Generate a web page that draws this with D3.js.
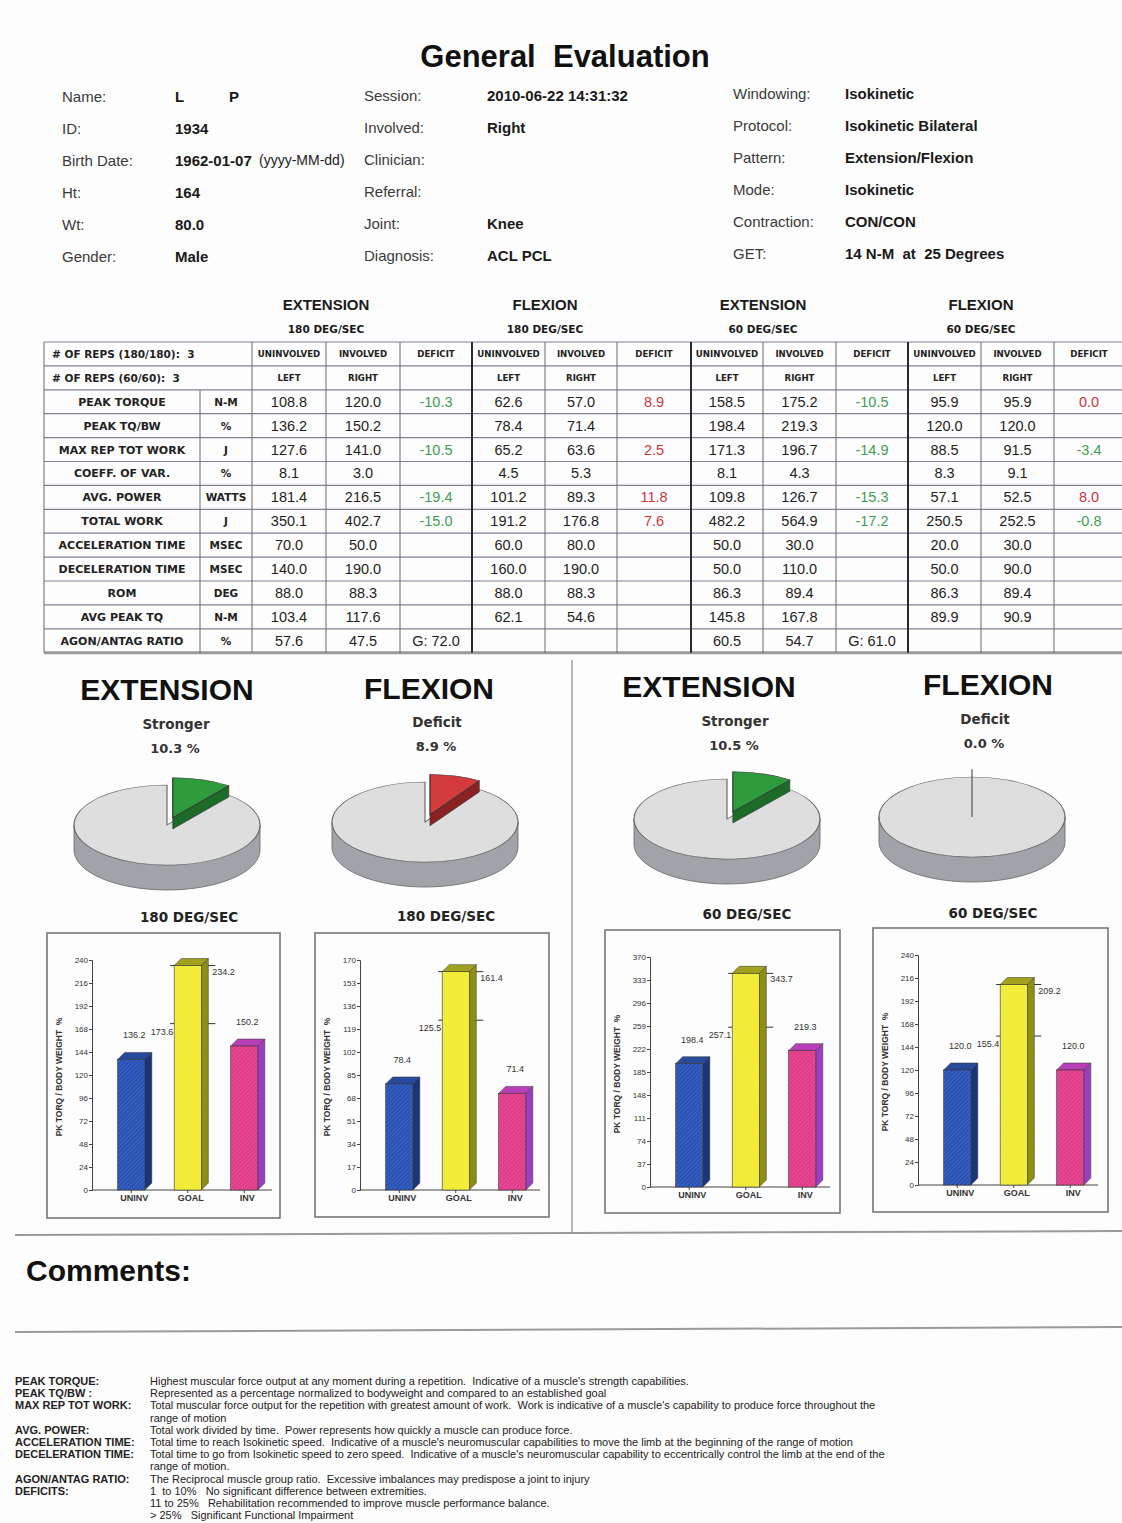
<!DOCTYPE html>
<html>
<head>
<meta charset="utf-8">
<style>
  body { margin: 0; background: #fff; }
  svg text { font-family: "Liberation Sans", Arial, sans-serif; white-space: pre; }
  .wide { font-family: "DejaVu Sans", Verdana, sans-serif !important; font-weight: bold; }
  .narrow { font-family: "Liberation Sans Narrow", "DejaVu Sans Condensed", sans-serif !important; }
</style>
</head>
<body>
<svg id="page"></svg>
<script src="https://cdn.jsdelivr.net/npm/d3@7"></script>
<script>
// ---- header info ----
var infoLabelsA = ["Name:", "ID:", "Birth Date:", "Ht:", "Wt:", "Gender:"];
var infoValuesA = ["L", "1934", "1962-01-07", "164", "80.0", "Male"];
var infoLabelsB = ["Session:", "Involved:", "Clinician:", "Referral:", "Joint:", "Diagnosis:"];
var infoValuesB = ["2010-06-22 14:31:32", "Right", "", "", "Knee", "ACL PCL"];
var infoLabelsC = ["Windowing:", "Protocol:", "Pattern:", "Mode:", "Contraction:", "GET:"];
var infoValuesC = ["Isokinetic", "Isokinetic Bilateral", "Extension/Flexion", "Isokinetic", "CON/CON", "14 N-M  at  25 Degrees"];

// ---- table ----
var groupTitles = ["EXTENSION", "FLEXION", "EXTENSION", "FLEXION"];
var groupSpeeds = ["180 DEG/SEC", "180 DEG/SEC", "60 DEG/SEC", "60 DEG/SEC"];
var rowLabels = ["PEAK TORQUE", "PEAK TQ/BW", "MAX REP TOT WORK", "COEFF. OF VAR.", "AVG. POWER", "TOTAL WORK",
                 "ACCELERATION TIME", "DECELERATION TIME", "ROM", "AVG PEAK TQ", "AGON/ANTAG RATIO"];
var rowUnits = ["N-M", "%", "J", "%", "WATTS", "J", "MSEC", "MSEC", "DEG", "N-M", "%"];

var ext180Left    = [108.8, 136.2, 127.6, 8.1, 181.4, 350.1, 70.0, 140.0, 88.0, 103.4, 57.6];
var ext180Right   = [120.0, 150.2, 141.0, 3.0, 216.5, 402.7, 50.0, 190.0, 88.3, 117.6, 47.5];
var ext180Deficit = [-10.3, null, -10.5, null, -19.4, -15.0, null, null, null, null, "G: 72.0"];
var flx180Left    = [62.6, 78.4, 65.2, 4.5, 101.2, 191.2, 60.0, 160.0, 88.0, 62.1, null];
var flx180Right   = [57.0, 71.4, 63.6, 5.3, 89.3, 176.8, 80.0, 190.0, 88.3, 54.6, null];
var flx180Deficit = [8.9, null, 2.5, null, 11.8, 7.6, null, null, null, null, null];
var ext60Left     = [158.5, 198.4, 171.3, 8.1, 109.8, 482.2, 50.0, 50.0, 86.3, 145.8, 60.5];
var ext60Right    = [175.2, 219.3, 196.7, 4.3, 126.7, 564.9, 30.0, 110.0, 89.4, 167.8, 54.7];
var ext60Deficit  = [-10.5, null, -14.9, null, -15.3, -17.2, null, null, null, null, "G: 61.0"];
var flx60Left     = [95.9, 120.0, 88.5, 8.3, 57.1, 250.5, 20.0, 50.0, 86.3, 89.9, null];
var flx60Right    = [95.9, 120.0, 91.5, 9.1, 52.5, 252.5, 30.0, 90.0, 89.4, 90.9, null];
var flx60Deficit  = [0.0, null, -3.4, null, 8.0, -0.8, null, null, null, null, null];

// ---- pies ----
var pieTitles = ["EXTENSION", "FLEXION", "EXTENSION", "FLEXION"];
var pieLabels = ["Stronger", "Deficit", "Stronger", "Deficit"];
var piePcts = [10.3, 8.9, 10.5, 0.0];
var pieSpeeds = ["180 DEG/SEC", "180 DEG/SEC", "60 DEG/SEC", "60 DEG/SEC"];

// ---- bar charts ----
var barCategories = ["UNINV", "GOAL", "INV"];
var uninvValues = [136.2, 78.4, 198.4, 120.0];
var invValues = [150.2, 71.4, 219.3, 120.0];
var goalLow = [173.6, 125.5, 257.1, 155.4];
var goalHigh = [234.2, 161.4, 343.7, 209.2];
var yTicks = [
  [0, 24, 48, 72, 96, 120, 144, 168, 192, 216, 240],
  [0, 17, 34, 51, 68, 85, 102, 119, 136, 153, 170],
  [0, 37, 74, 111, 148, 185, 222, 259, 296, 333, 370],
  [0, 24, 48, 72, 96, 120, 144, 168, 192, 216, 240]
];

// ---- glossary ----
var glossTerms = ["PEAK TORQUE:", "PEAK TQ/BW :", "MAX REP TOT WORK:", "", "AVG. POWER:", "ACCELERATION TIME:",
                  "DECELERATION TIME:", "", "AGON/ANTAG RATIO:", "DEFICITS:", "", ""];
var glossText = [
  "Highest muscular force output at any moment during a repetition.  Indicative of a muscle's strength capabilities.",
  "Represented as a percentage normalized to bodyweight and compared to an established goal",
  "Total muscular force output for the repetition with greatest amount of work.  Work is indicative of a muscle's capability to produce force throughout the",
  "range of motion",
  "Total work divided by time.  Power represents how quickly a muscle can produce force.",
  "Total time to reach Isokinetic speed.  Indicative of a muscle's neuromuscular capabilities to move the limb at the beginning of the range of motion",
  "Total time to go from Isokinetic speed to zero speed.  Indicative of a muscle's neuromuscular capability to eccentrically control the limb at the end of the",
  "range of motion.",
  "The Reciprocal muscle group ratio.  Excessive imbalances may predispose a joint to injury",
  "1  to 10%   No significant difference between extremities.",
  "11 to 25%   Rehabilitation recommended to improve muscle performance balance.",
  "> 25%   Significant Functional Impairment"
];

var W = 1122, H = 1523;
var svg = d3.select("#page").attr("width", W).attr("height", H);
svg.append("rect").attr("width", W).attr("height", H).attr("fill", "#fdfdfd");

var defs = svg.append("defs");
var pat = defs.append("pattern").attr("id", "hatch").attr("width", 3).attr("height", 3)
  .attr("patternUnits", "userSpaceOnUse").attr("patternTransform", "rotate(45)");
pat.append("line").attr("x1", 0).attr("y1", 0).attr("x2", 0).attr("y2", 3)
  .attr("stroke", "rgba(255,255,255,0.22)").attr("stroke-width", 1);

// title
svg.append("text").attr("x", 565).attr("y", 67).attr("text-anchor", "middle")
  .attr("font-size", 31).attr("font-weight", "bold").attr("fill", "#111").text("General  Evaluation");

// info block
function infoCol(labels, values, lx, vx, y0) {
  labels.forEach(function (l, i) {
    var y = y0 + i * 31.9 + 5;
    svg.append("text").attr("x", lx).attr("y", y).attr("font-size", 15).attr("fill", "#3a3a3a").text(l);
    svg.append("text").attr("x", vx).attr("y", y).attr("font-size", 15).attr("font-weight", "bold")
      .attr("fill", "#1a1a1a").text(values[i]);
  });
}
infoCol(infoLabelsA, infoValuesA, 62, 175, 97);
infoCol(infoLabelsB, infoValuesB, 364, 487, 96);
infoCol(infoLabelsC, infoValuesC, 733, 845, 94);
svg.append("text").attr("x", 229).attr("y", 102).attr("font-size", 15).attr("font-weight", "bold").attr("fill", "#1a1a1a").text("P");
svg.append("text").attr("x", 259).attr("y", 165).attr("font-size", 14).attr("fill", "#222").text("(yyyy-MM-dd)");

// ---- table ----
var colX = [44, 200, 252, 326, 400, 472, 545, 617, 691, 763, 836, 908, 981, 1054, 1124];
var tableTop = 342, rowH = 23.9, nRows = 13;
var groups = [
  [ext180Left, ext180Right, ext180Deficit],
  [flx180Left, flx180Right, flx180Deficit],
  [ext60Left, ext60Right, ext60Deficit],
  [flx60Left, flx60Right, flx60Deficit]
];
var tbl = svg.append("g");

groupTitles.forEach(function (t, gi) {
  var cx = colX[3 + gi * 3];
  tbl.append("text").attr("x", cx).attr("y", 310).attr("text-anchor", "middle")
    .attr("font-size", 15).attr("font-weight", "bold").attr("fill", "#1a1a1a").text(t);
  tbl.append("text").attr("class", "wide").attr("x", cx).attr("y", 333).attr("text-anchor", "middle")
    .attr("font-size", 10.5).attr("fill", "#1a1a1a").text(groupSpeeds[gi]);
});

d3.range(nRows + 1).forEach(function (i) {
  tbl.append("line").attr("x1", colX[0]).attr("x2", colX[colX.length - 1])
    .attr("y1", tableTop + i * rowH).attr("y2", tableTop + i * rowH)
    .attr("stroke", i === nRows ? "#9a9a9a" : "#857f98").attr("stroke-width", i === nRows ? 3 : 1.2);
});
colX.forEach(function (x, j) {
  var thick = (j === 5 || j === 8 || j === 11);
  tbl.append("line").attr("x1", x).attr("x2", x)
    .attr("y1", j === 1 ? tableTop + 2 * rowH : tableTop).attr("y2", tableTop + nRows * rowH)
    .attr("stroke", thick ? "#2a2a2a" : "#6a6a6a").attr("stroke-width", thick ? 2 : 1);
});

function rowY(i) { return tableTop + (i + 0.5) * rowH; }
tbl.append("text").attr("class", "wide").attr("x", 52).attr("y", rowY(0) + 4).attr("font-size", 10.5)
  .attr("fill", "#222").text("# OF REPS (180/180):  3");
tbl.append("text").attr("class", "wide").attr("x", 52).attr("y", rowY(1) + 4).attr("font-size", 10.5)
  .attr("fill", "#222").text("# OF REPS (60/60):  3");

groups.forEach(function (g, gi) {
  var base = 2 + gi * 3;
  [["UNINVOLVED", "LEFT"], ["INVOLVED", "RIGHT"], ["DEFICIT", ""]].forEach(function (h, k) {
    var cx = (colX[base + k] + colX[base + k + 1]) / 2;
    tbl.append("text").attr("class", "wide").attr("x", cx).attr("y", rowY(0) + 3.5).attr("text-anchor", "middle")
      .attr("font-size", 8.6).attr("fill", "#222").text(h[0]);
    tbl.append("text").attr("class", "wide").attr("x", cx).attr("y", rowY(1) + 3.5).attr("text-anchor", "middle")
      .attr("font-size", 8.6).attr("fill", "#222").text(h[1]);
  });
  g.forEach(function (arr, k) {
    var cx = (colX[base + k] + colX[base + k + 1]) / 2;
    arr.forEach(function (v, r) {
      if (v === null) return;
      var txt = typeof v === "string" ? v : (v < 0 ? "-" : "") + Math.abs(v).toFixed(1);
      var col = "#1e1e1e";
      if (k === 2 && typeof v === "number") col = v < 0 ? "#3f9e54" : "#c9373d";
      tbl.append("text").attr("x", cx).attr("y", rowY(r + 2) + 5).attr("text-anchor", "middle")
        .attr("font-size", 14.5).attr("fill", col).text(txt);
    });
  });
});
rowLabels.forEach(function (l, r) {
  tbl.append("text").attr("class", "wide").attr("x", (colX[0] + colX[1]) / 2).attr("y", rowY(r + 2) + 4)
    .attr("text-anchor", "middle").attr("font-size", 11).attr("fill", "#222").text(l);
  tbl.append("text").attr("class", "wide").attr("x", (colX[1] + colX[2]) / 2).attr("y", rowY(r + 2) + 4)
    .attr("text-anchor", "middle").attr("font-size", 10.5).attr("fill", "#222").text(rowUnits[r]);
});

// ---- pies ----
var pieLayout = [
  {cx: 167, cy: 825, tx: 167, ty: 690, lx: 176, ly: 729, sx: 189, sy: 922},
  {cx: 425, cy: 822, tx: 429, ty: 689, lx: 437, ly: 727, sx: 446, sy: 921},
  {cx: 727, cy: 819, tx: 709, ty: 687, lx: 735, ly: 726, sx: 747, sy: 919},
  {cx: 972, cy: 817, tx: 988, ty: 685, lx: 985, ly: 724, sx: 993, sy: 918}
];
var pieColors = [["#2e9b3d", "#1d6b28"], ["#d33a3c", "#8a2224"], ["#2e9b3d", "#1d6b28"], ["#d33a3c", "#8a2224"]];
var rx = 93, ry = 40, depth = 25, explode = 18;
var pieGen = d3.pie().sort(null);
var arcGen = d3.arc().innerRadius(0).outerRadius(rx);

function rim(cx, cy, a) { return [cx + rx * Math.sin(a), cy - ry * Math.cos(a)]; }

pieLayout.forEach(function (p, i) {
  var g = svg.append("g");
  g.append("text").attr("x", p.tx).attr("y", p.ty + 10).attr("text-anchor", "middle")
    .attr("font-size", 30).attr("font-weight", "bold").attr("fill", "#111").text(pieTitles[i]);
  g.append("text").attr("class", "wide").attr("x", p.lx).attr("y", p.ly).attr("text-anchor", "middle")
    .attr("font-size", 13.5).attr("fill", "#333").text(pieLabels[i]);
  g.append("text").attr("class", "wide").attr("x", p.lx - 1).attr("y", p.ly + 24).attr("text-anchor", "middle")
    .attr("font-size", 13).attr("fill", "#333").text(piePcts[i].toFixed(1) + " %");
  g.append("text").attr("class", "wide").attr("x", p.sx).attr("y", p.sy).attr("text-anchor", "middle")
    .attr("font-size", 13.5).attr("fill", "#222").text(pieSpeeds[i]);

  var arcs = pieGen([piePcts[i], 100 - piePcts[i]]);
  var k = ry / rx;
  // side of the disc (front half)
  g.append("path")
    .attr("d", "M" + (p.cx + rx) + "," + p.cy + " A" + rx + "," + ry + " 0 0 1 " + (p.cx - rx) + "," + p.cy +
      " L" + (p.cx - rx) + "," + (p.cy + depth) + " A" + rx + "," + ry + " 0 0 0 " + (p.cx + rx) + "," + (p.cy + depth) + " Z")
    .attr("fill", "#a0a4a9").attr("stroke", "#666").attr("stroke-width", 0.8);
  // top of the gray part
  g.append("path").attr("d", arcGen(arcs[1]))
    .attr("transform", "translate(" + p.cx + "," + p.cy + ") scale(1," + k + ")")
    .attr("fill", "#dedede").attr("stroke", "#6a6a6a").attr("stroke-width", 1.2);
  // exploded wedge
  var a0 = arcs[0].startAngle, a1 = arcs[0].endAngle, mid = (a0 + a1) / 2;
  var ox = Math.sin(mid) * explode, oy = -Math.cos(mid) * explode * k;
  var ccx = p.cx + ox, ccy = p.cy + oy;
  if (a1 - a0 > 0.001) {
    var r1 = rim(ccx, ccy, a1);
    g.append("path")
      .attr("d", "M" + ccx + "," + ccy + " L" + r1[0] + "," + r1[1] + " L" + r1[0] + "," + (r1[1] + depth * 0.45) +
        " L" + ccx + "," + (ccy + depth * 0.45) + " Z")
      .attr("fill", pieColors[i][1]).attr("stroke", "#333").attr("stroke-width", 0.6);
    g.append("path").attr("d", arcGen(arcs[0]))
      .attr("transform", "translate(" + ccx + "," + ccy + ") scale(1," + k + ")")
      .attr("fill", pieColors[i][0]).attr("stroke", "#333").attr("stroke-width", 1.2);
  } else {
    var r0 = rim(ccx, ccy, a0);
    g.append("line").attr("x1", p.cx).attr("y1", p.cy).attr("x2", r0[0]).attr("y2", r0[1])
      .attr("stroke", "#555").attr("stroke-width", 1.2);
  }
});

// ---- bar charts ----
var boxes = [
  {x: 47, y: 933, w: 233, h: 285},
  {x: 315, y: 933, w: 234, h: 284},
  {x: 605, y: 930, w: 235, h: 283},
  {x: 873, y: 928, w: 235, h: 284}
];
var barFront = ["#2751b5", "#f1ec32", "#e13a88"];
var barSide = ["#1a3579", "#8e8e16", "#9a3fc0"];
var barTop = ["#274a9c", "#a2a21e", "#b83fb8"];
var dx = 7, dy = 7;

boxes.forEach(function (b, i) {
  var g = svg.append("g").attr("class", "narrow");
  g.append("rect").attr("x", b.x).attr("y", b.y).attr("width", b.w).attr("height", b.h)
    .attr("fill", "#fdfdfd").attr("stroke", "#777").attr("stroke-width", 1.6);
  var ax = b.x + 45, top = b.y + 27, bottom = b.y + 257, right = b.x + 225;
  var ticks = yTicks[i];
  var y = d3.scaleLinear().domain([0, ticks[ticks.length - 1]]).range([bottom, top]);
  var x = d3.scaleBand().domain(barCategories).range([ax + 11, ax + 180.5]).paddingInner(0.52).paddingOuter(0.26);

  g.append("g").attr("transform", "translate(" + ax + ",0)")
    .call(d3.axisLeft(y).tickValues(ticks).tickSize(3).tickPadding(1).tickFormat(d3.format("d")))
    .call(function (s) {
      s.selectAll("text").attr("font-size", 8).attr("fill", "#333").attr("font-family", null);
      s.selectAll("line,path").attr("stroke", "#444");
    });
  g.append("g").attr("transform", "translate(0," + bottom + ")")
    .call(d3.axisBottom(x).tickSize(3).tickPadding(2))
    .call(function (s) {
      s.select(".domain").attr("d", "M" + ax + ",0H" + right);
      s.selectAll("text").attr("font-size", 9).attr("font-weight", "bold").attr("fill", "#333")
        .attr("font-family", null).attr("dx", 3);
      s.selectAll("line,path").attr("stroke", "#444");
    });
  g.append("text").attr("transform", "translate(" + (b.x + 15) + "," + (b.y + 144) + ") rotate(-90)")
    .attr("text-anchor", "middle").attr("font-size", 8.5).attr("font-weight", "bold").attr("fill", "#333")
    .text("PK TORQ / BODY WEIGHT  %");

  var bw = x.bandwidth();
  // goal range lines (behind the bar)
  [goalLow[i], goalHigh[i]].forEach(function (v) {
    g.append("line").attr("x1", x("GOAL") - 4).attr("x2", x("GOAL") + bw + dx + 7)
      .attr("y1", y(v)).attr("y2", y(v)).attr("stroke", "#333").attr("stroke-width", 1);
  });

  var vals = [uninvValues[i], goalHigh[i], invValues[i]];
  barCategories.forEach(function (c, j) {
    var x0 = x(c), y0 = y(vals[j]);
    g.append("path")
      .attr("d", "M" + (x0 + bw) + "," + y0 + "L" + (x0 + bw + dx) + "," + (y0 - dy) + "L" + (x0 + bw + dx) + "," + (bottom - dy) +
        "L" + (x0 + bw) + "," + bottom + "Z")
      .attr("fill", barSide[j]).attr("stroke", "#333").attr("stroke-width", 0.5);
    g.append("path")
      .attr("d", "M" + x0 + "," + y0 + "L" + (x0 + dx) + "," + (y0 - dy) + "L" + (x0 + bw + dx) + "," + (y0 - dy) +
        "L" + (x0 + bw) + "," + y0 + "Z")
      .attr("fill", barTop[j]).attr("stroke", "#333").attr("stroke-width", 0.5);
    g.append("rect").attr("x", x0).attr("y", y0).attr("width", bw).attr("height", bottom - y0)
      .attr("fill", barFront[j]).attr("stroke", "#333").attr("stroke-width", 0.6);
    g.append("rect").attr("x", x0).attr("y", y0).attr("width", bw).attr("height", bottom - y0)
      .attr("fill", "url(#hatch)");
  });

  function lbl(tx, ty, anchor, t) {
    g.append("text").attr("x", tx).attr("y", ty).attr("text-anchor", anchor)
      .attr("font-size", 9).attr("fill", "#333").text(t);
  }
  lbl(x("UNINV") + bw / 2 + 3, y(uninvValues[i]) - 21, "middle", uninvValues[i].toFixed(1));
  lbl(x("INV") + bw / 2 + 3, y(invValues[i]) - 21, "middle", invValues[i].toFixed(1));
  lbl(x("GOAL") - 1, y(goalLow[i]) + 11, "end", goalLow[i].toFixed(1));
  lbl(x("GOAL") + bw + dx + 4, y(goalHigh[i]) + 9, "start", goalHigh[i].toFixed(1));
});

// dividers
svg.append("line").attr("x1", 572).attr("x2", 572).attr("y1", 660).attr("y2", 1232)
  .attr("stroke", "#8a8a8a").attr("stroke-width", 1.2);
svg.append("line").attr("x1", 15).attr("x2", 1122).attr("y1", 1235).attr("y2", 1231)
  .attr("stroke", "#9a9a9a").attr("stroke-width", 2);
svg.append("line").attr("x1", 15).attr("x2", 1122).attr("y1", 1332).attr("y2", 1327)
  .attr("stroke", "#9a9a9a").attr("stroke-width", 2);

svg.append("text").attr("x", 26).attr("y", 1281).attr("font-size", 30).attr("font-weight", "bold")
  .attr("fill", "#111").text("Comments:");

// glossary
var glossY = [1381, 1393, 1405, 1418, 1430, 1442, 1454, 1466, 1479, 1491, 1503, 1515];
var gl = svg.append("g").attr("class", "narrow");
glossText.forEach(function (t, i) {
  if (glossTerms[i]) {
    gl.append("text").attr("x", 15).attr("y", glossY[i] + 4).attr("font-size", 11).attr("font-weight", "bold")
      .attr("fill", "#222").text(glossTerms[i]);
  }
  gl.append("text").attr("x", 150).attr("y", glossY[i] + 4).attr("font-size", 11).attr("fill", "#222").text(t);
});
</script>
</body>
</html>
